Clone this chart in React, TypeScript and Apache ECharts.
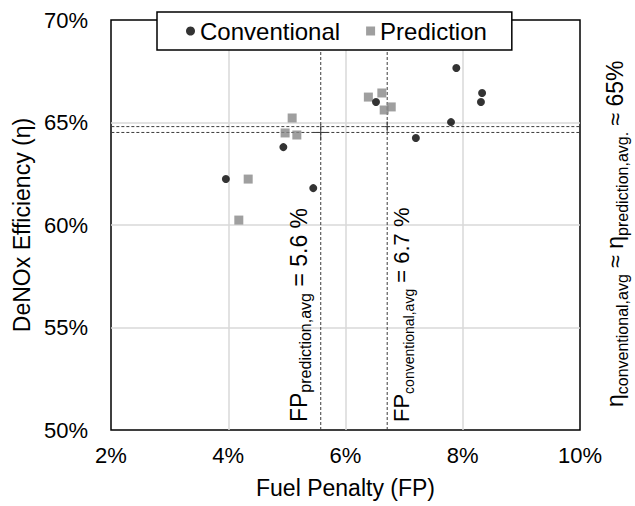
import React, { useEffect, useRef } from "react";
import * as echarts from "echarts";

// Fuel penalty (%) and DeNOx efficiency (%) per operating point
const fuelPenaltyConventional = [3.96, 4.94, 5.45, 6.52, 7.2, 7.8, 7.89, 8.33, 8.31];
const efficiencyConventional = [62.24, 63.8, 61.8, 66.0, 64.24, 65.02, 67.66, 66.44, 66.0];
const fuelPenaltyPrediction = [4.18, 4.34, 4.97, 5.17, 5.09, 6.39, 6.62, 6.66, 6.78];
const efficiencyPrediction = [60.24, 62.24, 64.49, 64.39, 65.22, 66.24, 66.44, 65.61, 65.76];

// Axis ticks (%)
const xTicks = [2, 4, 6, 8, 10];
const yTicks = [50, 55, 60, 65, 70];

// Half-widths of the spread markers around the averages [fuel penalty, efficiency]
const spreadPrediction = [0.13, 0.4];
const spreadConventional = [0.05, 0.25];

// Overall efficiency level quoted on the right-hand side
const efficiencyLevel = 65;

const FONT = "'Liberation Sans', Arial, Helvetica, sans-serif";

const mean = (a: number[]) => a.reduce((s, v) => s + v, 0) / a.length;
const zip = (xs: number[], ys: number[]) => xs.map((x, i) => [x, ys[i]]);

const avgFpConventional = mean(fuelPenaltyConventional);
const avgFpPrediction = mean(fuelPenaltyPrediction);
const avgEffConventional = mean(efficiencyConventional);
const avgEffPrediction = mean(efficiencyPrediction);

const xMin = xTicks[0];
const xMax = xTicks[xTicks.length - 1];
const yMin = yTicks[0];
const yMax = yTicks[yTicks.length - 1];

// horizontal guides run slightly past the plot frame
const guideSpan = [xMin - 0.25, xMax + 0.45];

const dashed = { color: "#3c3c3c", width: 1, type: [3, 2] as number[] };
const solid = { color: "#3c3c3c", width: 1 };

function guide(data: number[][], lineStyle: any) {
  return {
    type: "line",
    data,
    symbol: "none",
    lineStyle,
    clip: false,
    silent: true,
    z: 3,
  };
}

const richStyle = (main: number, sub: number) => ({
  m: { fontSize: main, lineHeight: 30, fontFamily: FONT, color: "#000", verticalAlign: "middle" },
  s: { fontSize: sub, lineHeight: sub, fontFamily: FONT, color: "#000", verticalAlign: "bottom" },
});

export default function App() {
  const ref = useRef<HTMLDivElement>(null);

  useEffect(() => {
    const el = ref.current!;
    const chart = echarts.init(el, undefined, { renderer: "svg" });

    const option: any = {
      animation: false,
      grid: {
        left: 111,
        right: 55,
        top: 20,
        bottom: 76,
        show: true,
        borderColor: "#000",
        borderWidth: 1.5,
        backgroundColor: "transparent",
      },
      legend: {
        data: [
          { name: "Conventional", icon: "circle" },
          { name: "Prediction", icon: "rect" },
        ],
        left: 157,
        top: 12,
        orient: "horizontal",
        backgroundColor: "#fff",
        borderColor: "#000",
        borderWidth: 1.5,
        padding: [7, 25, 7, 29],
        itemGap: 26,
        itemWidth: 9,
        itemHeight: 9,
        textStyle: { fontSize: 24, color: "#000", fontFamily: FONT },
      },
      xAxis: {
        type: "value",
        min: xMin,
        max: xMax,
        interval: xTicks[1] - xTicks[0],
        name: "Fuel Penalty (FP)",
        nameLocation: "middle",
        nameGap: 46,
        nameTextStyle: { fontSize: 23, color: "#000", fontFamily: FONT },
        axisLine: { show: false },
        axisTick: { show: false },
        axisLabel: {
          fontSize: 22,
          color: "#000",
          fontFamily: FONT,
          margin: 14,
          formatter: (v: number) => `${v}%`,
        },
        splitLine: {
          show: true,
          showMinLine: false,
          showMaxLine: false,
          lineStyle: { color: "#d9d9d9", width: 1.5 },
        },
      },
      yAxis: {
        type: "value",
        min: yMin,
        max: yMax,
        interval: yTicks[1] - yTicks[0],
        name: "DeNOx Efficiency (η)",
        nameLocation: "middle",
        nameGap: 77,
        nameTextStyle: { fontSize: 23, color: "#000", fontFamily: FONT },
        axisLine: { show: false },
        axisTick: { show: false },
        axisLabel: {
          fontSize: 22,
          color: "#000",
          fontFamily: FONT,
          margin: 23,
          formatter: (v: number) => `${v}%`,
        },
        splitLine: {
          show: true,
          showMinLine: false,
          showMaxLine: false,
          lineStyle: { color: "#d9d9d9", width: 1.5 },
        },
      },
      series: [
        // averages of fuel penalty
        guide([[avgFpPrediction, yMin], [avgFpPrediction, yMax]], dashed),
        guide([[avgFpConventional, yMin], [avgFpConventional, yMax]], dashed),
        // averages of efficiency
        guide([[guideSpan[0], avgEffConventional], [guideSpan[1], avgEffConventional]], dashed),
        guide([[guideSpan[0], avgEffPrediction], [guideSpan[1], avgEffPrediction]], dashed),
        // spread markers at the average points
        guide(
          [
            [avgFpPrediction - spreadPrediction[0], avgEffPrediction],
            [avgFpPrediction + spreadPrediction[0], avgEffPrediction],
          ],
          solid
        ),
        guide(
          [
            [avgFpPrediction, avgEffPrediction - spreadPrediction[1]],
            [avgFpPrediction, avgEffPrediction + spreadPrediction[1]],
          ],
          solid
        ),
        guide(
          [
            [avgFpConventional - spreadConventional[0], avgEffConventional],
            [avgFpConventional + spreadConventional[0], avgEffConventional],
          ],
          solid
        ),
        guide(
          [
            [avgFpConventional, avgEffConventional - spreadConventional[1]],
            [avgFpConventional, avgEffConventional + spreadConventional[1]],
          ],
          solid
        ),
        {
          name: "Conventional",
          type: "scatter",
          symbol: "circle",
          symbolSize: 8,
          itemStyle: { color: "#000" },
          data: zip(fuelPenaltyConventional, efficiencyConventional),
          z: 5,
        },
        {
          name: "Prediction",
          type: "scatter",
          symbol: "rect",
          symbolSize: 9,
          itemStyle: { color: "#878787" },
          data: zip(fuelPenaltyPrediction, efficiencyPrediction),
          z: 4,
        },
      ],
    };

    chart.setOption(option);

    const pPred = chart.convertToPixel({ gridIndex: 0 }, [avgFpPrediction, yMin]) as number[];
    const pConv = chart.convertToPixel({ gridIndex: 0 }, [avgFpConventional, yMin]) as number[];
    const pCorner = chart.convertToPixel({ gridIndex: 0 }, [xMax, yMin]) as number[];

    const rotated = (x: number, y: number, text: string, rich: any) => ({
      type: "text",
      x,
      y,
      rotation: Math.PI / 2,
      silent: true,
      z: 10,
      style: {
        text,
        rich,
        align: "left",
        verticalAlign: "bottom",
        fill: "#000",
      },
    });

    chart.setOption({
      graphic: [
        rotated(
          pPred[0] - 7,
          pPred[1] - 8,
          `{m|FP}{s|prediction,avg}{m| = ${avgFpPrediction.toFixed(1)} %}`,
          richStyle(23, 16)
        ),
        rotated(
          pConv[0] + 29,
          pConv[1] - 8,
          `{m|FP}{s|conventional,avg}{m| = ${avgFpConventional.toFixed(1)} %}`,
          richStyle(22, 14)
        ),
        rotated(
          pCorner[0] + 50,
          pCorner[1] - 23,
          `{m|η}{s|conventional,avg}{m| ≈ η}{s|prediction,avg.}{m| ≈ ${efficiencyLevel}%}`,
          richStyle(23, 16)
        ),
      ],
    });

    return () => chart.dispose();
  }, []);

  return (
    <div
      ref={ref}
      style={{ position: "fixed", left: 0, top: 0, width: 635, height: 506, background: "#fff" }}
    />
  );
}
